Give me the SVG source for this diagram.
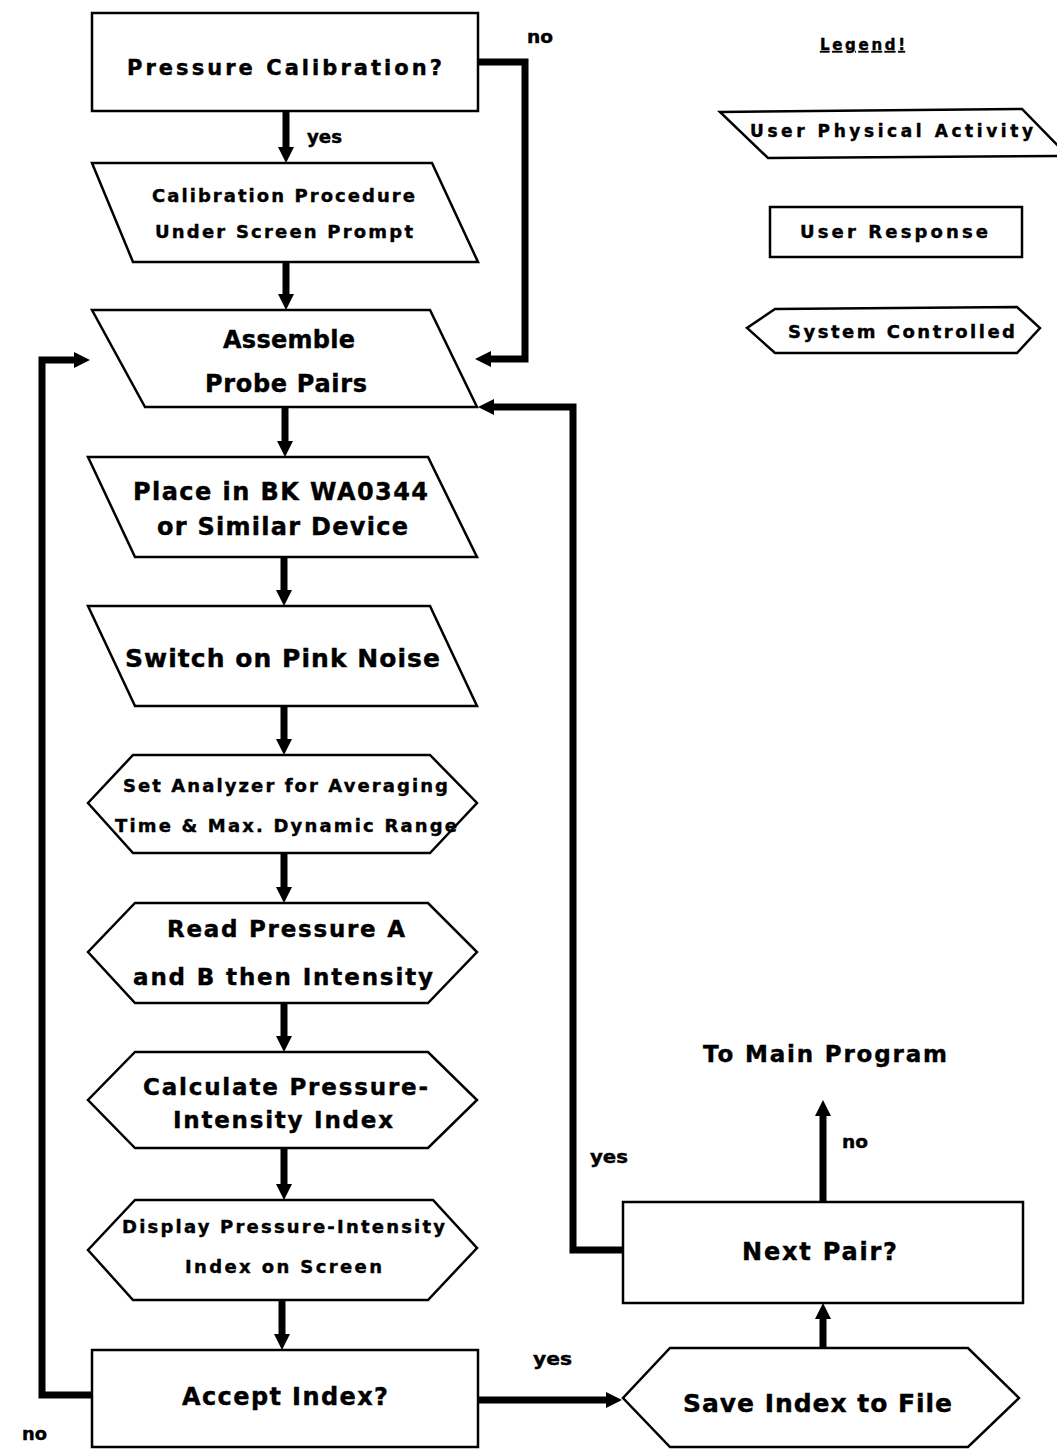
<svg xmlns="http://www.w3.org/2000/svg" width="1057" height="1451" viewBox="0 0 1057 1451">
<style>
.shape{fill:#fff;stroke:#000;stroke-width:2.5;stroke-linejoin:miter}
.conn{fill:none;stroke:#000;stroke-width:7;stroke-linejoin:miter}
text{font-family:"DejaVu Sans","Liberation Sans",Arial,sans-serif;font-weight:bold;fill:#000;stroke:#000;stroke-width:0.4}
</style>
<defs>
<marker id="ah" markerUnits="userSpaceOnUse" markerWidth="16" markerHeight="16" refX="6" refY="8" orient="auto">
<path d="M0,0 L16,8 L0,16 z" fill="#000"/>
</marker>
</defs>
<rect width="1057" height="1451" fill="#fff"/>

<g id="connectors">
<path class="conn" d="M286,111 V153" marker-end="url(#ah)"/>
<path class="conn" d="M286,262 V300" marker-end="url(#ah)"/>
<path class="conn" d="M285,407 V447" marker-end="url(#ah)"/>
<path class="conn" d="M284,557 V596" marker-end="url(#ah)"/>
<path class="conn" d="M284,706 V745" marker-end="url(#ah)"/>
<path class="conn" d="M284,853 V893" marker-end="url(#ah)"/>
<path class="conn" d="M284,1003 V1042" marker-end="url(#ah)"/>
<path class="conn" d="M284,1148 V1190" marker-end="url(#ah)"/>
<path class="conn" d="M282,1300 V1340" marker-end="url(#ah)"/>
<path class="conn" d="M478,62 H525 V359 H485" marker-end="url(#ah)"/>
<path class="conn" d="M92,1395 H42 V360 H80" marker-end="url(#ah)"/>
<path class="conn" d="M478,1400 H612" marker-end="url(#ah)"/>
<path class="conn" d="M823,1348 V1313" marker-end="url(#ah)"/>
<path class="conn" d="M823,1202 V1110" marker-end="url(#ah)"/>
<path class="conn" d="M623,1250 H573 V407 H488" marker-end="url(#ah)"/>
<text x="527" y="43" font-size="17" textLength="26" lengthAdjust="spacingAndGlyphs">no</text>
<text x="307" y="143" font-size="17" textLength="35" lengthAdjust="spacingAndGlyphs">yes</text>
<text x="22" y="1440" font-size="17" textLength="25" lengthAdjust="spacingAndGlyphs">no</text>
<text x="533" y="1365" font-size="17" textLength="39" lengthAdjust="spacingAndGlyphs">yes</text>
<text x="590" y="1163" font-size="17" textLength="38" lengthAdjust="spacingAndGlyphs">yes</text>
<text x="842" y="1148" font-size="17" textLength="26" lengthAdjust="spacingAndGlyphs">no</text>
</g>

<g id="n-pressure-calibration">
<rect class="shape" x="92" y="13" width="386" height="98"/>
<text x="127" y="75" font-size="21" textLength="315" lengthAdjust="spacing">Pressure Calibration?</text>
</g>

<g id="n-calibration-procedure">
<polygon class="shape" points="92,163 432,163 478,262 133,262"/>
<text x="152" y="202" font-size="18" textLength="263" lengthAdjust="spacing">Calibration Procedure</text>
<text x="155" y="238" font-size="18" textLength="258" lengthAdjust="spacing">Under Screen Prompt</text>
</g>

<g id="n-assemble">
<polygon class="shape" points="92,310 430,310 477,407 145,407"/>
<text x="223" y="348" font-size="24" textLength="132" lengthAdjust="spacing">Assemble</text>
<text x="205" y="392" font-size="24" textLength="162" lengthAdjust="spacing">Probe Pairs</text>
</g>

<g id="n-place">
<polygon class="shape" points="88,457 428,457 477,557 135,557"/>
<text x="133" y="500" font-size="24" textLength="295" lengthAdjust="spacing">Place in BK WA0344</text>
<text x="157" y="535" font-size="24" textLength="251" lengthAdjust="spacing">or Similar Device</text>
</g>

<g id="n-switch">
<polygon class="shape" points="88,606 430,606 477,706 135,706"/>
<text x="125" y="667" font-size="25" textLength="315" lengthAdjust="spacing">Switch on Pink Noise</text>
</g>

<g id="n-set-analyzer">
<polygon class="shape" points="133,755 430,755 477,803 430,853 133,853 88,803"/>
<text x="123" y="792" font-size="18" textLength="325" lengthAdjust="spacing">Set Analyzer for Averaging</text>
<text x="115" y="832" font-size="18" textLength="342" lengthAdjust="spacing">Time &amp; Max. Dynamic Range</text>
</g>

<g id="n-read-pressure">
<polygon class="shape" points="135,903 428,903 477,952 428,1003 135,1003 88,952"/>
<text x="167" y="937" font-size="23" textLength="238" lengthAdjust="spacing">Read Pressure A</text>
<text x="133" y="985" font-size="23" textLength="300" lengthAdjust="spacing">and B then Intensity</text>
</g>

<g id="n-calculate">
<polygon class="shape" points="135,1052 428,1052 477,1100 428,1148 135,1148 88,1100"/>
<text x="143" y="1095" font-size="23" textLength="285" lengthAdjust="spacing">Calculate Pressure-</text>
<text x="173" y="1128" font-size="23" textLength="220" lengthAdjust="spacing">Intensity Index</text>
</g>

<g id="n-display">
<polygon class="shape" points="135,1200 433,1200 477,1248 428,1300 133,1300 88,1250"/>
<text x="122" y="1233" font-size="18" textLength="323" lengthAdjust="spacing">Display Pressure-Intensity</text>
<text x="185" y="1273" font-size="18" textLength="197" lengthAdjust="spacing">Index on Screen</text>
</g>

<g id="n-accept">
<rect class="shape" x="92" y="1350" width="386" height="97"/>
<text x="182" y="1405" font-size="24" textLength="206" lengthAdjust="spacing">Accept Index?</text>
</g>

<g id="n-save">
<polygon class="shape" points="670,1348 968,1348 1019,1398 968,1447 670,1447 623,1398"/>
<text x="683" y="1412" font-size="25" textLength="269" lengthAdjust="spacing">Save Index to File</text>
</g>

<g id="n-next-pair">
<rect class="shape" x="623" y="1202" width="400" height="101"/>
<text x="742" y="1260" font-size="24" textLength="155" lengthAdjust="spacing">Next Pair?</text>
</g>

<g id="n-main-program">
<text x="703" y="1062" font-size="23" textLength="244" lengthAdjust="spacing">To Main Program</text>
</g>

<g id="legend">
<text x="820" y="50" font-size="15" textLength="85" lengthAdjust="spacing" text-decoration="underline">Legend!</text>
<polygon class="shape" points="720,112 1022,109 1068,156 768,158"/>
<text x="750" y="137" font-size="17" textLength="283" lengthAdjust="spacing">User Physical Activity</text>
<rect class="shape" x="770" y="207" width="252" height="50"/>
<text x="800" y="238" font-size="18" textLength="188" lengthAdjust="spacing">User Response</text>
<polygon class="shape" points="775,309 1017,307 1040,328 1017,353 775,353 747,328"/>
<text x="788" y="338" font-size="18" textLength="227" lengthAdjust="spacing">System Controlled</text>
</g>
</svg>
